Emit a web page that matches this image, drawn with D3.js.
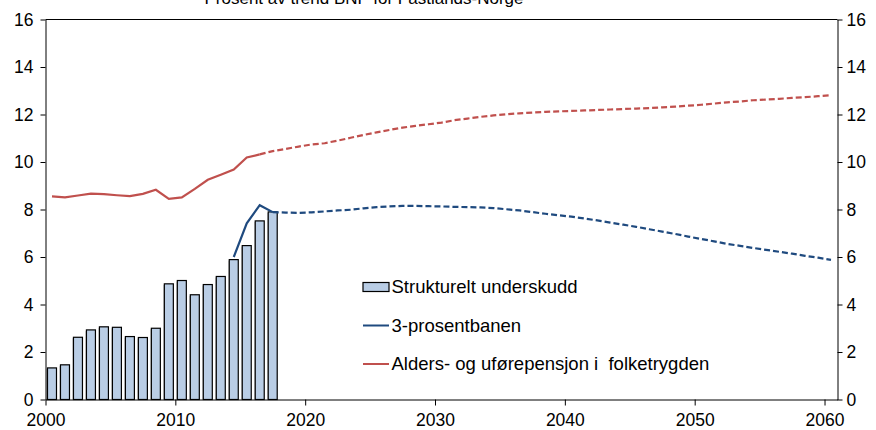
<!DOCTYPE html>
<html>
<head>
<meta charset="utf-8">
<script src="https://cdn.jsdelivr.net/npm/d3@7"></script>
<style>
  body { margin: 0; background: #fff; }
  svg { font-family: "Liberation Sans", Arial, sans-serif; }
</style>
</head>
<body>
<div id="chart"></div>
<script>
// data
var title = "Prosent av trend BNP for Fastlands-Norge";

var barYears = [2000, 2001, 2002, 2003, 2004, 2005, 2006, 2007, 2008, 2009,
                2010, 2011, 2012, 2013, 2014, 2015, 2016, 2017];
var underskudd = [1.33, 1.46, 2.62, 2.93, 3.06, 3.04, 2.65, 2.61, 3.0, 4.87,
                  5.01, 4.41, 4.84, 5.18, 5.89, 6.48, 7.52, 7.90];

// 3-prosentbanen, historic part (solid)
var banenYears = [2014, 2015, 2016, 2017];
var banen = [6.0, 7.42, 8.18, 7.89];

// 3-prosentbanen, projection (dashed)
var banenProjYears = d3.range(2017, 2061);
var banenProj = [7.89, 7.87, 7.86, 7.88, 7.92, 7.96, 7.99, 8.05, 8.10, 8.13,
                 8.15, 8.15, 8.14, 8.13, 8.11, 8.10, 8.09, 8.06, 8.01, 7.96,
                 7.89, 7.82, 7.76, 7.70, 7.62, 7.54, 7.45, 7.36, 7.27, 7.17,
                 7.07, 6.97, 6.86, 6.76, 6.66, 6.55, 6.47, 6.38, 6.30, 6.22,
                 6.14, 6.05, 5.97, 5.88];

// Alders- og uførepensjon, historic part (solid)
var pensjonYears = d3.range(2000, 2017);
var pensjon = [8.55, 8.51, 8.59, 8.67, 8.65, 8.60, 8.56, 8.66, 8.83, 8.45,
               8.51, 8.87, 9.25, 9.46, 9.68, 10.19, 10.32];

// Alders- og uførepensjon, projection (dashed)
var pensjonProjYears = d3.range(2016, 2061);
var pensjonProj = [10.32, 10.46, 10.55, 10.65, 10.74, 10.79, 10.90, 11.02, 11.14, 11.25,
                   11.35, 11.45, 11.52, 11.59, 11.66, 11.76, 11.83, 11.90, 11.96, 12.01,
                   12.05, 12.08, 12.11, 12.13, 12.15, 12.17, 12.19, 12.21, 12.23, 12.25,
                   12.27, 12.30, 12.33, 12.37, 12.41, 12.46, 12.51, 12.55, 12.60, 12.63,
                   12.66, 12.70, 12.73, 12.77, 12.81];

var xTicks = [2000, 2010, 2020, 2030, 2040, 2050, 2060];
var yTicks = [0, 2, 4, 6, 8, 10, 12, 14, 16];

var legendLabels = ["Strukturelt underskudd", "3-prosentbanen", "Alders- og uførepensjon i  folketrygden"];

// chart setup
var svgWidth = 876;
var svgHeight = 430;
var margin = { top: 19.5, right: 38.5, bottom: 30.5, left: 45.5 };
var chartWidth = svgWidth - margin.left - margin.right;
var chartHeight = svgHeight - margin.top - margin.bottom;

var blue = "#1f4a7f";
var red = "#c0504d";
var barFill = "#b9cde5";
var tickFont = 17.5;
var legendFont = 18.5;

var svg = d3.select("#chart")
    .append("svg")
    .attr("width", svgWidth)
    .attr("height", svgHeight);

var chartGroup = svg.append("g")
    .attr("transform", `translate(${margin.left}, ${margin.top})`);

var xScale = d3.scaleLinear().domain([2000, 2061]).range([0, chartWidth]);
var yScale = d3.scaleLinear().domain([0, 16]).range([chartHeight, 0]);

// bars (centred mid-year), with a faint shadow like the original
var barWidth = 9;
chartGroup.selectAll(".shadow")
    .data(underskudd)
    .enter()
    .append("rect")
    .attr("x", (d, i) => xScale(barYears[i] + 0.5) - barWidth / 2 - 1)
    .attr("y", d => yScale(d) + 1)
    .attr("width", barWidth)
    .attr("height", d => chartHeight - yScale(d) - 1)
    .attr("fill", "#9a9a9a")
    .attr("opacity", 0.6);

chartGroup.selectAll(".bar")
    .data(underskudd)
    .enter()
    .append("rect")
    .attr("class", "bar")
    .attr("x", (d, i) => xScale(barYears[i] + 0.5) - barWidth / 2)
    .attr("y", d => yScale(d))
    .attr("width", barWidth)
    .attr("height", d => chartHeight - yScale(d))
    .attr("fill", barFill)
    .attr("stroke", "#000")
    .attr("stroke-width", 1.2);

var line = d3.line()
    .x(d => xScale(d[0] + 0.5))
    .y(d => yScale(d[1]));

function drawLine(years, values, color, dashed) {
    chartGroup.append("path")
        .datum(years.map((yr, i) => [yr, values[i]]))
        .attr("d", line)
        .attr("fill", "none")
        .attr("stroke", color)
        .attr("stroke-width", 2.2)
        .attr("stroke-dasharray", dashed ? "6,3" : null);
}

drawLine(pensjonYears, pensjon, red, false);
drawLine(pensjonProjYears, pensjonProj, red, true);
drawLine(banenYears, banen, blue, false);
drawLine(banenProjYears, banenProj, blue, true);

// axes
var leftAxis = d3.axisLeft(yScale).tickValues(yTicks).tickSize(5).tickSizeOuter(0).tickPadding(7);
var rightAxis = d3.axisRight(yScale).tickValues(yTicks).tickSize(5).tickSizeOuter(0).tickPadding(4);
var bottomAxis = d3.axisBottom(xScale).tickValues(xTicks).tickSize(6).tickSizeOuter(0)
    .tickPadding(8).tickFormat(d3.format("d"));

chartGroup.append("g")
    .call(leftAxis);

chartGroup.append("g")
    .attr("transform", `translate(${chartWidth}, 0)`)
    .call(rightAxis);

chartGroup.append("g")
    .attr("transform", `translate(0, ${chartHeight})`)
    .call(bottomAxis);

chartGroup.selectAll(".tick text")
    .attr("font-size", tickFont)
    .attr("font-family", "Liberation Sans, Arial, sans-serif")
    .attr("fill", "#000");

// top border
chartGroup.append("line")
    .attr("x1", 0)
    .attr("x2", chartWidth)
    .attr("y1", 0)
    .attr("y2", 0)
    .attr("stroke", "#000");

// title (cut off at the top like in the original)
svg.append("text")
    .attr("x", 364)
    .attr("y", 4)
    .attr("text-anchor", "middle")
    .attr("font-size", 17)
    .text(title);

// legend
var legend = svg.append("g")
    .attr("transform", "translate(363, 287)");

legend.append("rect")
    .attr("x", 0)
    .attr("y", -4.5)
    .attr("width", 26)
    .attr("height", 9)
    .attr("fill", barFill)
    .attr("stroke", "#000")
    .attr("stroke-width", 1.2);

[blue, red].forEach(function(c, i) {
    legend.append("line")
        .attr("x1", 0)
        .attr("x2", 26)
        .attr("y1", 38.5 * (i + 1))
        .attr("y2", 38.5 * (i + 1))
        .attr("stroke", c)
        .attr("stroke-width", 2);
});

legend.selectAll(".ltext")
    .data(legendLabels)
    .enter()
    .append("text")
    .attr("x", 28.5)
    .attr("y", (d, i) => 38.5 * i)
    .attr("dy", "0.35em")
    .attr("font-size", legendFont)
    .attr("xml:space", "preserve")
    .style("white-space", "pre")
    .text(d => d);
</script>
</body>
</html>
